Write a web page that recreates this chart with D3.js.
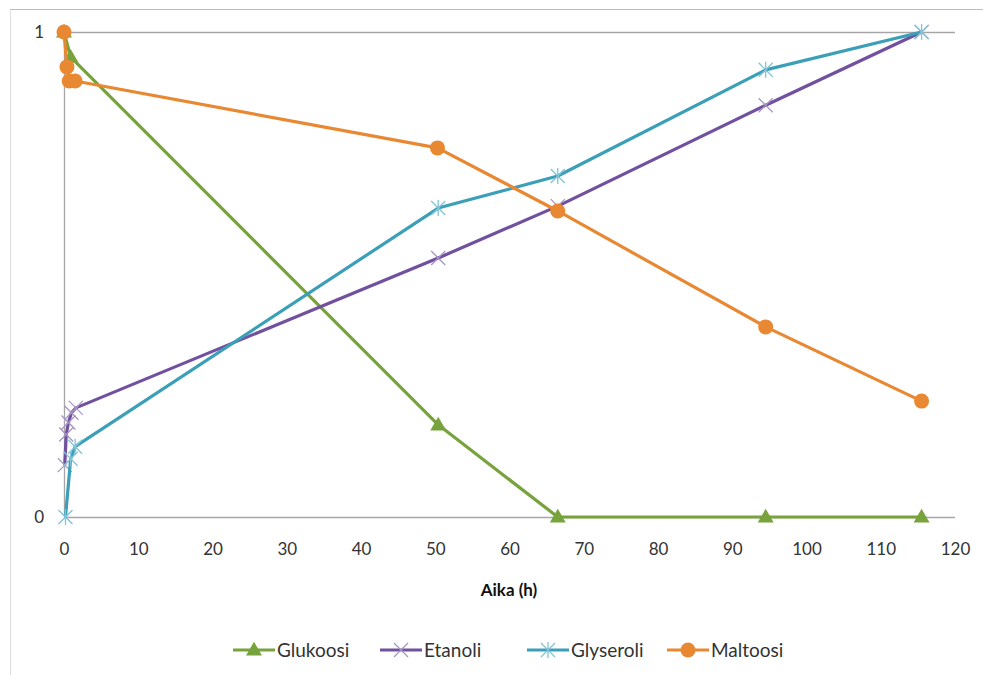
<!DOCTYPE html>
<html><head><meta charset="utf-8">
<script src="https://cdn.jsdelivr.net/npm/d3@7"></script>
<style>body{margin:0;background:#fff;} svg{display:block;font-family:Lato, "Open Sans", sans-serif;}</style>
</head><body>
<svg id="c" width="983" height="675"></svg>
<script>
const xTicks = [0,10,20,30,40,50,60,70,80,90,100,110,120];
const yTicks = [0,1];
const glukoosiX = [0, 0.9, 50.4, 66.5, 94.5, 115.5];
const glukoosiY = [1.0, 0.948, 0.19, 0.0, 0.0, 0.0];
const etanoliX = [0.1, 0.3, 0.6, 1.0, 1.6, 50.4, 66.5, 94.5, 115.5];
const etanoliY = [0.107, 0.17, 0.195, 0.215, 0.225, 0.534, 0.641, 0.849, 1.0];
const glyseroliX = [0.2, 0.9, 1.5, 50.4, 66.5, 94.5, 115.5];
const glyseroliY = [0.0, 0.12, 0.145, 0.637, 0.703, 0.922, 1.0];
const maltoosiX = [0, 0.4, 0.7, 1.5, 50.3, 66.5, 94.5, 115.5];
const maltoosiY = [1.0, 0.928, 0.899, 0.899, 0.761, 0.631, 0.392, 0.239];
const seriesNames = ["Glukoosi","Etanoli","Glyseroli","Maltoosi"];
const colors = ["#77a23c","#7150a0","#3a9fb7","#e98832"];
const xTitle = "Aika (h)";

const svg = d3.select("#c");
// outer frame
svg.append("line").attr("x1",10.5).attr("x2",983).attr("y1",9.5).attr("y2",9.5).attr("stroke","#bbb");
svg.append("line").attr("x1",10.5).attr("x2",10.5).attr("y1",9.5).attr("y2",675).attr("stroke","#bbb").attr("stroke-dasharray","1,1");

const x = d3.scaleLinear().domain([0,120]).range([64,955]);
const y = d3.scaleLinear().domain([0,1]).range([517,32]);

// gridlines
svg.append("g").selectAll("line").data(yTicks).join("line")
  .attr("x1",x(0)).attr("x2",x(120)).attr("y1",d=>y(d)+0.5).attr("y2",d=>y(d)+0.5)
  .attr("stroke","#a6a6a6").attr("stroke-width",1.3);
svg.append("line").attr("x1",x(0)+0.5).attr("x2",x(0)+0.5).attr("y1",y(1)).attr("y2",y(0))
  .attr("stroke","#a6a6a6").attr("stroke-width",1.3);

// axes labels
const xAxis = d3.axisBottom(x).tickValues(xTicks).tickSize(0).tickPadding(0).tickFormat(d3.format("d"));
const gx = svg.append("g").attr("transform",`translate(0,${y(0)+33})`).call(xAxis);
gx.select(".domain").remove();
gx.selectAll("text").attr("font-size",17).attr("fill","#333").attr("font-family","Lato, sans-serif").attr("dy","0.32em");
const yAxis = d3.axisLeft(y).tickValues(yTicks).tickSize(0).tickPadding(20).tickFormat(d3.format("d"));
const gy = svg.append("g").attr("transform",`translate(${x(0)},0)`).call(yAxis);
gy.select(".domain").remove();
gy.selectAll("text").attr("font-size",17).attr("fill","#333").attr("font-family","Lato, sans-serif");

svg.append("text").attr("x",509).attr("y",596).attr("text-anchor","middle")
  .attr("font-size",17).attr("font-weight","bold").attr("fill","#111").text(xTitle);

const seriesData = [
  d3.zip(glukoosiX, glukoosiY),
  d3.zip(etanoliX, etanoliY),
  d3.zip(glyseroliX, glyseroliY),
  d3.zip(maltoosiX, maltoosiY)
];
const line = d3.line().x(d=>x(d[0])).y(d=>y(d[1]));

function marker(g, type, color, cx, cy){
  if(type===0){
    g.append("path").attr("d",d3.symbol(d3.symbolTriangle, 110)()).attr("transform",`translate(${cx},${cy+1})`).attr("fill",color);
  } else if(type===1){
    const s=7;
    g.append("path").attr("d",`M${cx-s},${cy-s}L${cx+s},${cy+s}M${cx-s},${cy+s}L${cx+s},${cy-s}`)
      .attr("stroke","#a795c4").attr("stroke-width",1.3).attr("fill","none");
  } else if(type===2){
    const s=7;
    g.append("path").attr("d",`M${cx-s},${cy-s}L${cx+s},${cy+s}M${cx-s},${cy+s}L${cx+s},${cy-s}M${cx},${cy-s-1}L${cx},${cy+s+1}`)
      .attr("stroke","#82c4d6").attr("stroke-width",1.3).attr("fill","none");
  } else {
    g.append("circle").attr("cx",cx).attr("cy",cy).attr("r",7.5).attr("fill",color);
  }
}

seriesData.forEach((data,i)=>{
  const g = svg.append("g");
  g.append("path").datum(data).attr("d",line).attr("fill","none").attr("stroke",colors[i])
    .attr("stroke-width",3.2).attr("stroke-linejoin","round");
  data.forEach(d=>marker(g,i,colors[i],x(d[0]),y(d[1])));
});

// legend
const legendX = [233, 380, 527, 667];
seriesNames.forEach((n,i)=>{
  const g = svg.append("g");
  const lx = legendX[i], ly = 650;
  g.append("line").attr("x1",lx).attr("x2",lx+42).attr("y1",ly).attr("y2",ly).attr("stroke",colors[i]).attr("stroke-width",3.2);
  marker(g,i,colors[i],lx+21,ly);
  g.append("text").attr("x",lx+44).attr("y",ly).attr("dy","0.35em").attr("font-size",19).attr("fill","#333").text(n);
});
</script>
</body></html>
